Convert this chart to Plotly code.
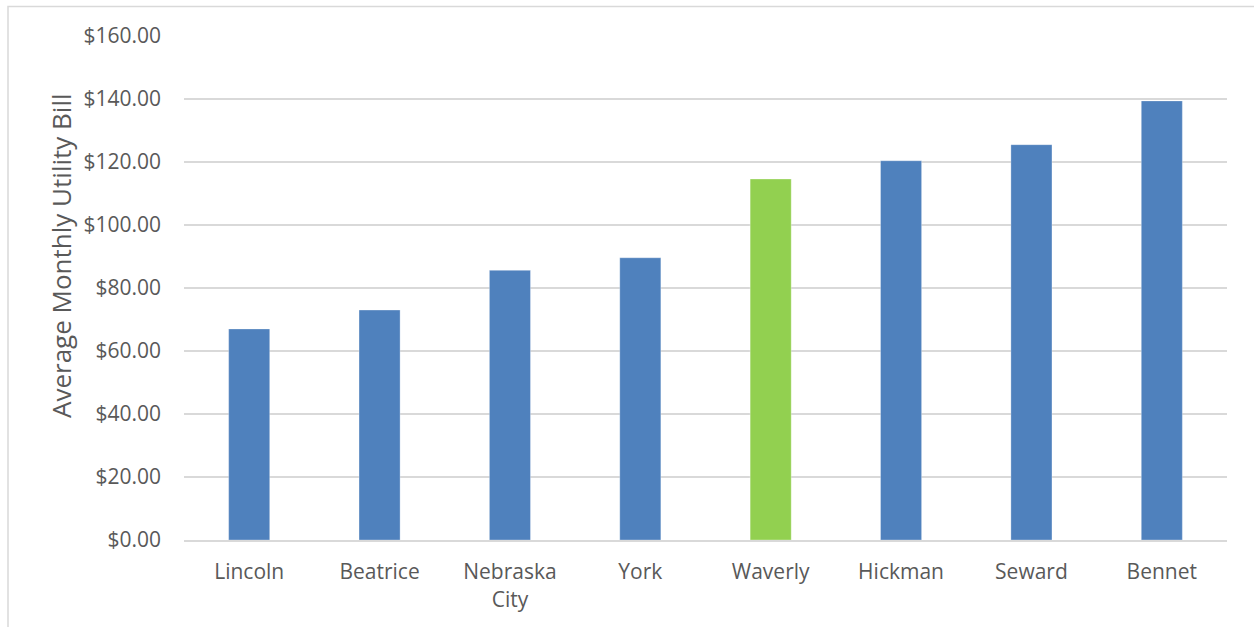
import plotly.graph_objects as go

categories = ["Lincoln", "Beatrice", "Nebraska<br>City", "York", "Waverly", "Hickman", "Seward", "Bennet"]
values = [67.0, 73.0, 85.6, 89.6, 114.6, 120.4, 125.5, 139.4]
highlight = "Waverly"
tick_vals = [0, 20, 40, 60, 80, 100, 120, 140, 160]
tick_text = ["$%.2f" % v for v in tick_vals]

BLUE = "#4F81BD"
GREEN = "#92D050"
colors = [GREEN if c == highlight else BLUE for c in categories]

W, H = 1254, 627
ml, mr, mt, mb = 184, 27, 36, 87

fig = go.Figure(go.Bar(
    x=categories, y=values,
    marker=dict(color=colors, line=dict(color="rgba(255,255,255,0.3)", width=1)),
    width=0.315,
))

font_fam = "Open Sans, Liberation Sans, sans-serif"
fig.update_layout(
    width=W, height=H,
    margin=dict(l=ml, r=mr, t=mt, b=mb),
    paper_bgcolor="white", plot_bgcolor="white",
    showlegend=False,
    font=dict(family=font_fam, color="#595959", size=21),
    xaxis=dict(
        showgrid=False, showline=True, linecolor="#D9D9D9", linewidth=2,
        ticks="", tickfont=dict(size=21, color="#595959"),
        ticklabelstandoff=12,
    ),
    yaxis=dict(
        range=[0, 160], tickvals=tick_vals, ticktext=tick_text,
        showgrid=True, gridcolor="#D9D9D9", gridwidth=1.5,
        zeroline=False, showline=False, ticks="",
        tickfont=dict(size=21, color="#595959"),
        ticklabelstandoff=22,
    ),
    shapes=[dict(
        type="rect", xref="paper", yref="paper",
        x0=(8 - ml) / (W - ml - mr), x1=(W + 20 - ml) / (W - ml - mr),
        y0=-(mb + 20) / (H - mt - mb),
        y1=1 + (mt - 6.5) / (H - mt - mb),
        line=dict(color="#D9D9D9", width=1.5), layer="below",
    )],
    annotations=[dict(
        text="Average Monthly Utility Bill", textangle=-90,
        xref="paper", yref="paper",
        x=(61 - ml) / (W - ml - mr), y=(540 - 256) / (H - mt - mb),
        xanchor="center", yanchor="middle", showarrow=False,
        font=dict(size=26, color="#595959", family=font_fam),
    )],
)

fig.write_html("out.html")
